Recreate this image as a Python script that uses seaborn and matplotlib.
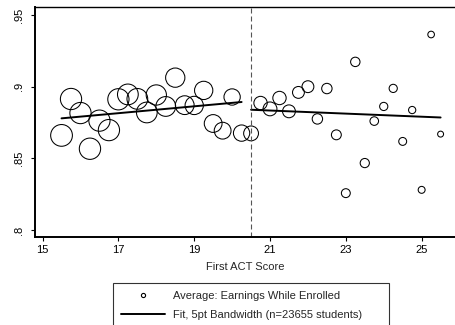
import matplotlib
matplotlib.use("Agg")
import matplotlib.pyplot as plt
import pandas as pd
import seaborn as sns
from matplotlib.lines import Line2D

# Binned first ACT score (quarter-point bins)
act_score = [15.5, 15.75, 16.0, 16.25, 16.5, 16.75, 17.0, 17.25, 17.5, 17.75,
             18.0, 18.25, 18.5, 18.75, 19.0, 19.25, 19.5, 19.75, 20.0, 20.25,
             20.5, 20.75, 21.0, 21.25, 21.5, 21.75, 22.0, 22.25, 22.5, 22.75,
             23.0, 23.25, 23.5, 23.75, 24.0, 24.25, 24.5, 24.75, 25.0, 25.25,
             25.5]

# Share with earnings while enrolled, per bin
avg_earnings = [0.8660, 0.8914, 0.8816, 0.8567, 0.8763, 0.8697, 0.8912, 0.8946,
                0.8915, 0.8820, 0.8942, 0.8862, 0.9063, 0.8871, 0.8869, 0.8974,
                0.8743, 0.8693, 0.8928, 0.8676, 0.8674, 0.8886, 0.8845, 0.8921,
                0.8828, 0.8960, 0.9000, 0.8775, 0.8987, 0.8664, 0.8257, 0.9173,
                0.8467, 0.8760, 0.8862, 0.8988, 0.8618, 0.8837, 0.8280, 0.9364,
                0.8669]

# Students in each bin (marker area is proportional)
n_students = [1113, 1063, 1063, 1070, 1060, 1063, 1063, 1014, 1014, 1010,
              966, 920, 874, 830, 787, 787, 745, 665, 626, 626,
              518, 419, 451, 419, 389, 331, 331, 254, 254, 230,
              186, 208, 199, 174, 158, 158, 147, 123, 113, 103,
              83]

# Local linear fit on each side of the cutoff
fit_left_x = [15.5, 20.25]
fit_left_y = [0.8779, 0.8893]
fit_right_x = [20.5, 25.5]
fit_right_y = [0.8839, 0.8785]
cutoff = 20.5

x_ticks = [15, 17, 19, 21, 23, 25]
y_ticks = [0.80, 0.85, 0.90, 0.95]
y_tick_labels = [".8", ".85", ".9", ".95"]

sns.set_theme(style="white")
plt.rcParams["font.family"] = ["Liberation Sans", "DejaVu Sans"]

df = pd.DataFrame({"act": act_score, "earn": avg_earnings, "n": n_students})
fit_df = pd.concat([
    pd.DataFrame({"act": fit_left_x, "fit": fit_left_y, "side": "below"}),
    pd.DataFrame({"act": fit_right_x, "fit": fit_right_y, "side": "above"}),
])

fig = plt.figure(figsize=(4.56, 3.25), dpi=100)
ax = fig.add_axes([35 / 456, 1 - 237 / 325, 420 / 456, 230 / 325])

max_n = max(n_students)
sns.scatterplot(data=df, x="act", y="earn", size="n", sizes=(0, 245),
                size_norm=(0, max_n), marker="o", facecolor="none",
                edgecolor="black", linewidth=0.75, legend=False, ax=ax)

sns.lineplot(data=fit_df, x="act", y="fit", units="side", estimator=None,
             color="black", linewidth=1.4, legend=False, ax=ax)

ax.axvline(cutoff, color="#555555", linewidth=0.8, linestyle=(0, (4.5, 2.7)))

ax.set_xlim(14.8, 25.88)
ax.set_ylim(0.7951, 0.9556)
ax.set_xticks(x_ticks)
ax.set_yticks(y_ticks)
ax.set_yticklabels(y_tick_labels, rotation=90, va="center")
ax.set_xlabel("First ACT Score", fontsize=8, labelpad=5)
ax.set_ylabel("")

ax.tick_params(axis="both", which="major", direction="out", length=3,
               width=0.8, colors="black", labelsize=8, bottom=True, left=True)
ax.tick_params(axis="x", pad=3)
ax.tick_params(axis="y", pad=5)

for side in ["left", "bottom"]:
    ax.spines[side].set_linewidth(1.4)
    ax.spines[side].set_color("black")
ax.spines["top"].set_linewidth(1.0)
ax.spines["top"].set_color("black")
ax.spines["right"].set_visible(False)

handles = [
    Line2D([], [], marker="o", linestyle="none", markersize=3,
           markerfacecolor="none", markeredgecolor="black", markeredgewidth=0.8),
    Line2D([], [], color="black", linewidth=1.4),
]
labels = ["Average: Earnings While Enrolled",
          "Fit, 5pt Bandwidth (n=23655 students)"]
leg = fig.legend(handles, labels, loc="upper left",
                 bbox_to_anchor=(113 / 456, 0, 276 / 456, 1 - 283 / 325),
                 mode="expand", borderaxespad=0, frameon=True, fancybox=False,
                 edgecolor="black", fontsize=8, handlelength=3.96,
                 handletextpad=0.72, borderpad=0.75, labelspacing=0.75)
leg.get_frame().set_linewidth(0.8)

fig.savefig("out.png", dpi=100)
